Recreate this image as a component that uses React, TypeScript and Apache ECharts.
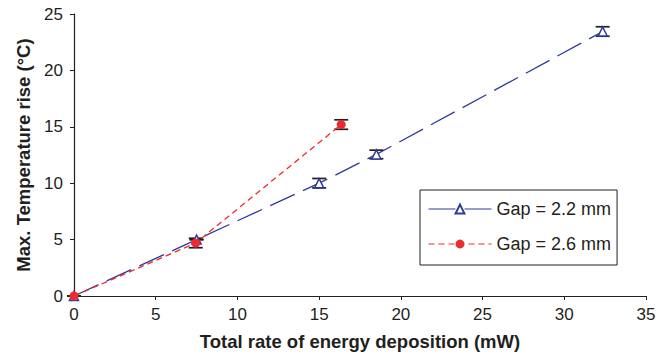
import React, { useEffect, useRef } from "react";
import * as echarts from "echarts";

const xTicks = [0, 5, 10, 15, 20, 25, 30, 35];
const yTicks = [0, 5, 10, 15, 20, 25];

const seriesNames = ["Gap = 2.2 mm", "Gap = 2.6 mm"];

const xBlue = [0, 7.5, 15.0, 18.5, 32.35];
const yBlue = [0, 5.0, 10.0, 12.55, 23.45];
const errBlue = [0, 0, 0.42, 0.38, 0.42];

const xRed = [0, 7.45, 16.35];
const yRed = [0, 4.7, 15.2];
const errRed = [0, 0.42, 0.42];

const BLUE = "#2e3a9a";
const RED = "#ee2a2f";
const INK = "#231f20";
const FONT = "'Liberation Sans', Arial, sans-serif";

function errData(xs: number[], ys: number[], es: number[]) {
  return xs.map((x, i) => [x, ys[i] - es[i], ys[i] + es[i]]);
}

function errorSeries(name: string, data: number[][]) {
  return {
    type: "custom",
    name: name + " err",
    z: 1,
    clip: false,
    silent: true,
    data,
    renderItem: (params: any, api: any) => {
      const x = api.value(0);
      const lo = api.coord([x, api.value(1)]);
      const hi = api.coord([x, api.value(2)]);
      const w = 7;
      const st = { stroke: INK, lineWidth: 1.7 };
      return {
        type: "group",
        children: [
          { type: "line", shape: { x1: lo[0], y1: lo[1], x2: hi[0], y2: hi[1] }, style: st },
          { type: "line", shape: { x1: lo[0] - w, y1: lo[1], x2: lo[0] + w, y2: lo[1] }, style: st },
          { type: "line", shape: { x1: hi[0] - w, y1: hi[1], x2: hi[0] + w, y2: hi[1] }, style: st },
        ],
      };
    },
  };
}

export default function App() {
  const ref = useRef<HTMLDivElement>(null);
  useEffect(() => {
    if (!ref.current) return;
    const chart = echarts.init(ref.current, null, { renderer: "svg" });
    chart.setOption({
      animation: false,
      textStyle: { fontFamily: FONT, color: INK },
      grid: { left: 74, right: 22, top: 14, bottom: 60 },
      xAxis: {
        type: "value",
        min: xTicks[0],
        max: xTicks[xTicks.length - 1],
        interval: 5,
        name: "Total rate of energy deposition (mW)",
        nameLocation: "middle",
        nameGap: 36,
        nameTextStyle: { fontSize: 18.5, fontWeight: "bold", color: INK, fontFamily: FONT },
        axisLine: { onZero: false, lineStyle: { color: INK, width: 1.2 } },
        axisTick: { show: true, length: 4, inside: false, lineStyle: { color: INK } },
        axisLabel: { fontSize: 17, color: INK, margin: 10, fontFamily: FONT },
        splitLine: { show: false },
      },
      yAxis: {
        type: "value",
        min: yTicks[0],
        max: yTicks[yTicks.length - 1],
        interval: 5,
        name: "Max. Temperature rise (°C)",
        nameLocation: "middle",
        nameGap: 41,
        nameTextStyle: { fontSize: 18.5, fontWeight: "bold", color: INK, fontFamily: FONT },
        axisLine: { show: true, onZero: false, lineStyle: { color: INK, width: 1.2 } },
        axisTick: { show: true, length: 4, inside: false, lineStyle: { color: INK } },
        axisLabel: { fontSize: 17, color: INK, margin: 11, fontFamily: FONT },
        splitLine: { show: false },
      },
      legend: {
        orient: "vertical",
        left: 420,
        top: 190,
        data: seriesNames,
        itemWidth: 63,
        itemHeight: 11,
        itemGap: 17,
        padding: [10, 6, 12, 8],
        borderColor: INK,
        borderWidth: 1,
        borderRadius: 0,
        lineStyle: { width: 1 },
        textStyle: { fontSize: 18, color: INK, fontFamily: FONT },
      },
      series: [
        errorSeries(seriesNames[0], errData(xBlue, yBlue, errBlue)),
        errorSeries(seriesNames[1], errData(xRed, yRed, errRed)),
        {
          type: "line",
          name: seriesNames[0],
          z: 3,
          clip: false,
          data: xBlue.map((x, i) => [x, yBlue[i]]),
          symbol: "triangle",
          symbolSize: 9,
          showAllSymbol: true,
          lineStyle: { color: BLUE, width: 1.3, type: [27, 9] },
          itemStyle: { color: "#ffffff", borderColor: BLUE, borderWidth: 1.5 },
        },
        {
          type: "line",
          name: seriesNames[1],
          z: 4,
          clip: false,
          data: xRed.map((x, i) => [x, yRed[i]]),
          symbol: "circle",
          symbolSize: 9,
          showAllSymbol: true,
          lineStyle: { color: RED, width: 1.3, type: [6, 4] },
          itemStyle: { color: RED, borderColor: RED, borderWidth: 0 },
        },
      ],
    });
    return () => chart.dispose();
  }, []);
  return (
    <div
      ref={ref}
      style={{ position: "fixed", left: 0, top: 0, width: 668, height: 356, background: "#ffffff" }}
    />
  );
}
